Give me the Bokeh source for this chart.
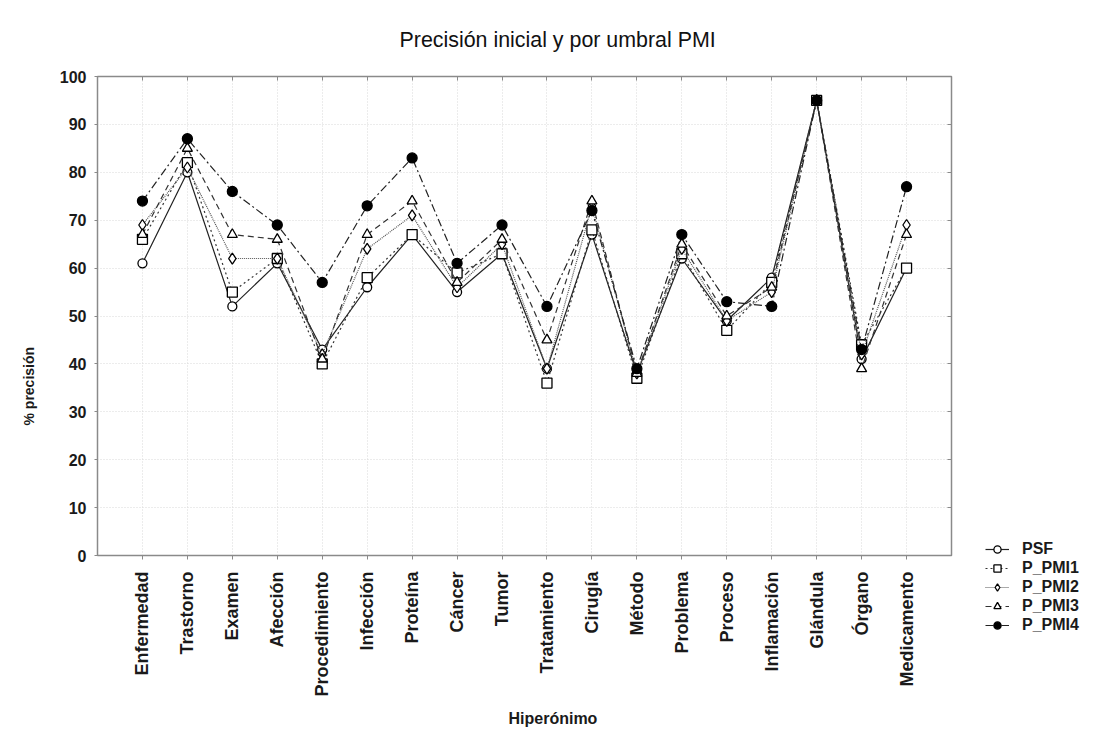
from bokeh.plotting import figure
from bokeh.layouts import row, column
from bokeh.models import (FactorRange, Range1d, Legend, LegendItem, Title,
                          CategoricalAxis, LinearAxis, FixedTicker, Spacer)
from bokeh.embed import file_html
from bokeh.resources import INLINE
from math import pi

categories = ["Enfermedad", "Trastorno", "Examen", "Afección", "Procedimiento",
              "Infección", "Proteína", "Cáncer", "Tumor", "Tratamiento", "Cirugía",
              "Método", "Problema", "Proceso", "Inflamación", "Glándula", "Órgano",
              "Medicamento"]

psf   = [61, 80, 52, 61, 43, 56, 67, 55, 63, 39, 67, 38, 62, 49, 58, 95, 41, 60]
pmi1  = [66, 82, 55, 62, 40, 58, 67, 59, 63, 36, 68, 37, 63, 47, 57, 95, 44, 60]
pmi2  = [69, 81, 62, 62, 42, 64, 71, 56, 65, 39, 73, 38, 64, 49, 55, 95, 42, 69]
pmi3  = [67, 85, 67, 66, 41, 67, 74, 57, 66, 45, 74, 38, 65, 50, 56, 95, 39, 67]
pmi4  = [74, 87, 76, 69, 57, 73, 83, 61, 69, 52, 72, 39, 67, 53, 52, 95, 43, 77]

series_names = ["PSF", "P_PMI1", "P_PMI2", "P_PMI3", "P_PMI4"]
y_ticks = [0, 10, 20, 30, 40, 50, 60, 70, 80, 90, 100]

FONT = "Liberation Sans"

p = figure(frame_width=854, frame_height=479,
           x_range=FactorRange(factors=categories, range_padding=0.5,
                               range_padding_units="absolute"),
           y_range=Range1d(0, 100),
           output_backend="svg", toolbar_location=None,
           min_border_left=97, min_border_right=17,
           min_border_top=76, min_border_bottom=170)

p.outline_line_color = "#8a8a8a"
p.outline_line_width = 1.5
p.background_fill_color = "white"
p.border_fill_color = "white"

# grids
p.xgrid.grid_line_color = "#d8d8d8"
p.xgrid.grid_line_dash = "1 2"
p.ygrid.grid_line_color = "#d8d8d8"
p.ygrid.grid_line_dash = "1 2"
p.ygrid.ticker = FixedTicker(ticks=y_ticks)

# axes
xa = p.xaxis[0]
xa.major_label_orientation = pi / 2
xa.major_label_text_font = FONT
xa.major_label_text_font_style = "bold"
xa.major_label_text_font_size = "18px"
xa.major_label_text_color = "#1a1a1a"
xa.axis_line_color = "#8a8a8a"
xa.major_tick_line_color = "#8a8a8a"
xa.major_tick_in = 0
xa.major_tick_out = 4
xa.major_label_standoff = 12

ya = p.yaxis[0]
ya.ticker = FixedTicker(ticks=y_ticks)
ya.major_label_text_font = FONT
ya.major_label_text_font_style = "bold"
ya.major_label_text_font_size = "16px"
ya.major_label_text_color = "#1a1a1a"
ya.axis_line_color = "#8a8a8a"
ya.major_tick_line_color = "#8a8a8a"
ya.major_tick_in = 0
ya.major_tick_out = 3
ya.minor_tick_line_color = None
ya.major_label_standoff = 8

# mirrored inner ticks on top and right
top = CategoricalAxis(axis_line_color=None, major_tick_line_color="#8a8a8a",
                      major_tick_in=4, major_tick_out=0, major_label_standoff=0,
                      major_label_text_color=None, major_label_text_font_size="1px")
p.add_layout(top, "above")
right = LinearAxis(ticker=FixedTicker(ticks=y_ticks), axis_line_color=None,
                   major_tick_line_color="#8a8a8a", major_tick_in=4, major_tick_out=0,
                   minor_tick_line_color=None, major_label_standoff=0,
                   major_label_text_color=None, major_label_text_font_size="1px")
p.add_layout(right, "right")

# series
styles = [
    dict(data=psf,  dash="solid",   marker="circle",   fill="white", size=9,  lc="#222222"),
    dict(data=pmi1, dash="2 3",     marker="square",   fill="white", size=10, lc="#333333"),
    dict(data=pmi2, dash="1 1",     marker="diamond",  fill="white", size=11, lc="#555555"),
    dict(data=pmi3, dash="6 4",     marker="triangle", fill="white", size=10, lc="#333333"),
    dict(data=pmi4, dash="8 3 2 3", marker="circle",   fill="black", size=10, lc="#222222"),
]

for st in styles:
    p.line(categories, st["data"], line_color=st["lc"], line_width=1.2,
           line_dash=st["dash"])
    p.scatter(categories, st["data"], marker=st["marker"], size=st["size"],
              fill_color=st["fill"], line_color="black", line_width=1.3)

# title and axis labels
p.title = Title(text="Precisión inicial y por umbral PMI", align="left", offset=302,
                text_font=FONT, text_font_size="21.4px", text_font_style="normal",
                text_color="#111111", standoff=50)
p.add_layout(Title(text="Hiperónimo", align="left", offset=411,
                   text_font=FONT, text_font_style="bold", text_font_size="16px",
                   text_color="#1a1a1a", standoff=17), "below")
p.add_layout(Title(text="% precisión", align="left", offset=130,
                   text_font=FONT, text_font_style="bold", text_font_size="14px",
                   text_color="#1a1a1a", standoff=36, vertical_align="top"), "left")

# legend in its own small figure beside the chart, lower right
lg = figure(width=139, height=100, output_backend="svg", toolbar_location=None,
            x_axis_type=None, y_axis_type=None, min_border=0,
            x_range=Range1d(0, 1), y_range=Range1d(0, 1))
lg.outline_line_color = None
lg.xgrid.visible = False
lg.ygrid.visible = False
items = []
for name, st in zip(series_names, styles):
    ln = lg.line([-5, -4], [-5, -5], line_color=st["lc"], line_width=1.2,
                 line_dash=st["dash"])
    sc = lg.scatter([-5], [-5], marker=st["marker"], size=st["size"],
                    fill_color=st["fill"], line_color="black", line_width=1.3)
    items.append(LegendItem(label=name, renderers=[ln, sc]))

legend = Legend(items=items, location=(17, 0),
                label_text_font=FONT, label_text_font_style="bold",
                label_text_font_size="16px", label_text_color="#1a1a1a",
                glyph_width=24, glyph_height=18, label_height=18,
                spacing=1, padding=0, margin=0, label_standoff=13,
                border_line_color=None, background_fill_alpha=0)
lg.add_layout(legend, "center")

layout = row(p, column(Spacer(width=139, height=534), lg))
open("out.html", "w").write(file_html(layout, INLINE))
